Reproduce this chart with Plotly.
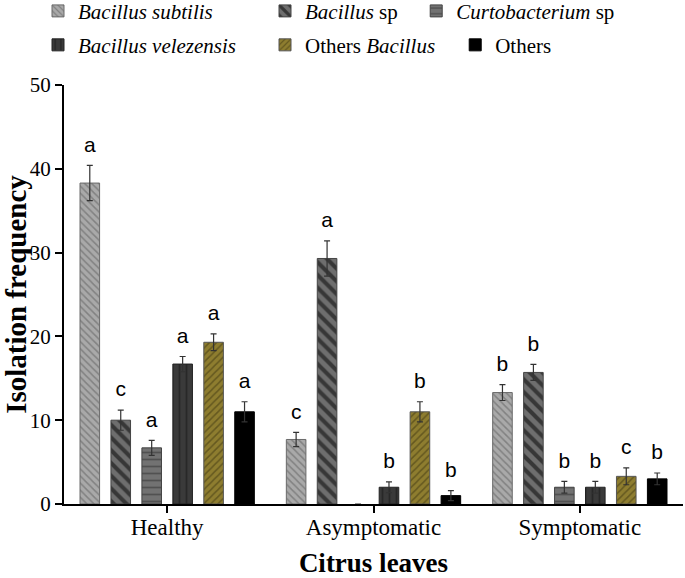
import plotly.graph_objects as go

categories = ["Healthy", "Asymptomatic", "Symptomatic"]

series_names = [
    "<i>Bacillus subtilis</i>",
    "<i>Bacillus</i> sp",
    "<i>Curtobacterium</i> sp",
    "<i>Bacillus velezensis</i>",
    "Others <i>Bacillus</i>",
    "Others",
]

b_subtilis = [38.3, 7.7, 13.3]
b_sp = [10.0, 29.3, 15.7]
curtobacterium = [6.7, 0.0, 2.0]
b_velezensis = [16.7, 2.0, 2.0]
others_bacillus = [19.3, 11.0, 3.3]
others = [11.0, 1.0, 3.0]

err_b_subtilis = [2.1, 0.85, 0.95]
err_b_sp = [1.2, 2.1, 0.95]
err_curtobacterium = [0.9, 0.0, 0.7]
err_b_velezensis = [0.9, 0.65, 0.7]
err_others_bacillus = [1.0, 1.2, 1.0]
err_others = [1.2, 0.6, 0.7]

letters_b_subtilis = ["a", "c", "b"]
letters_b_sp = ["c", "a", "b"]
letters_curtobacterium = ["a", "", "b"]
letters_b_velezensis = ["a", "b", "b"]
letters_others_bacillus = ["a", "b", "c"]
letters_others = ["a", "b", "b"]

values = [b_subtilis, b_sp, curtobacterium, b_velezensis, others_bacillus, others]
errors = [err_b_subtilis, err_b_sp, err_curtobacterium, err_b_velezensis,
          err_others_bacillus, err_others]
letters = [letters_b_subtilis, letters_b_sp, letters_curtobacterium,
           letters_b_velezensis, letters_others_bacillus, letters_others]

styles = [
    dict(color="#a9a9a9", fg="#5a5a5a", shape="\\", size=5, solidity=0.3, line="#6a6a6a"),
    dict(color="#6e6e6e", fg="#000000", shape="\\", size=9, solidity=0.45, line="#444444"),
    dict(color="#727272", fg="#303030", shape="-", size=7, solidity=0.25, line="#444444"),
    dict(color="#3a3a3a", fg="#151515", shape="|", size=7, solidity=0.25, line="#222222"),
    dict(color="#8e7d2f", fg="#3a3310", shape="/", size=5, solidity=0.3, line="#555555"),
    dict(color="#000000", fg="#000000", shape="", size=8, solidity=0.3, line="#000000"),
]

legend_ids = ["legend", "legend", "legend2", "legend3", "legend3", "legend4"]

SERIF = "Liberation Serif, Times New Roman, serif"
SANS = "Liberation Sans, Arial, sans-serif"

fig = go.Figure()

for name, v, e, st, lg in zip(series_names, values, errors, styles, legend_ids):
    fig.add_trace(go.Bar(
        x=categories, y=v, name=name, legend=lg,
        offsetgroup=name,
        marker=dict(
            color=st["color"],
            opacity=[1 if val > 0 else 0 for val in v],
            line=dict(color=st["line"], width=[1 if val > 0 else 0 for val in v]),
            pattern=dict(shape=[st["shape"] if val > 0 else "" for val in v],
                         fgcolor=st["fg"], fillmode="overlay",
                         size=st["size"], solidity=st["solidity"]),
        ),
        error_y=dict(type="data",
                     array=[err if val > 0 else None for val, err in zip(v, e)],
                     visible=True, color="#333333", thickness=1.2, width=3),
    ))

for name, v, e, lt in zip(series_names, values, errors, letters):
    fig.add_trace(go.Scatter(
        x=categories, y=[a + b for a, b in zip(v, e)], text=lt,
        mode="markers+text", textposition="top center", offsetgroup=name,
        marker=dict(size=12, opacity=0),
        textfont=dict(family=SANS, size=21, color="black"),
        showlegend=False, hoverinfo="skip", cliponaxis=False,
    ))

leg_common = dict(orientation="h", font=dict(family=SERIF, size=21, color="black"),
                  bgcolor="rgba(0,0,0,0)", yanchor="middle", xanchor="left",
                  traceorder="normal")

fig.update_layout(
    width=685, height=578,
    margin=dict(l=64, r=2, t=85, b=74, autoexpand=False),
    paper_bgcolor="white", plot_bgcolor="white",
    barmode="group", bargap=0.1, bargroupgap=0.367,
    scattermode="group", scattergap=0.1,
    legend=dict(**leg_common, x=-0.042, y=1.176, entrywidth=182),
    legend2=dict(**leg_common, x=0.569, y=1.176),
    legend3=dict(**leg_common, x=-0.042, y=1.095, entrywidth=182),
    legend4=dict(**leg_common, x=0.632, y=1.095),
    xaxis=dict(
        type="category", range=[-0.5, 2.5],
        showline=True, linecolor="black", linewidth=2,
        ticks="outside", ticklen=7, tickwidth=2, tickcolor="black",
        tickfont=dict(family=SERIF, size=23, color="black"),
        ticklabelstandoff=-6,
        title=dict(text="<b>Citrus leaves</b>", font=dict(family=SERIF, size=27, color="black"),
                   standoff=16),
        showgrid=False, zeroline=False, automargin=False,
    ),
    yaxis=dict(
        range=[0, 50], dtick=10,
        showline=True, linecolor="black", linewidth=2,
        ticks="outside", ticklen=7, tickwidth=2, tickcolor="black",
        tickfont=dict(family=SERIF, size=21, color="black"),
        title=dict(text="<b>Isolation frequency</b>", font=dict(family=SERIF, size=29, color="black"),
                   standoff=0),
        showgrid=False, zeroline=False, automargin=False,
    ),
    showlegend=True,
)

fig.write_html("out.html", config={"displayModeBar": False},
               post_script="document.body.style.margin='0';")
